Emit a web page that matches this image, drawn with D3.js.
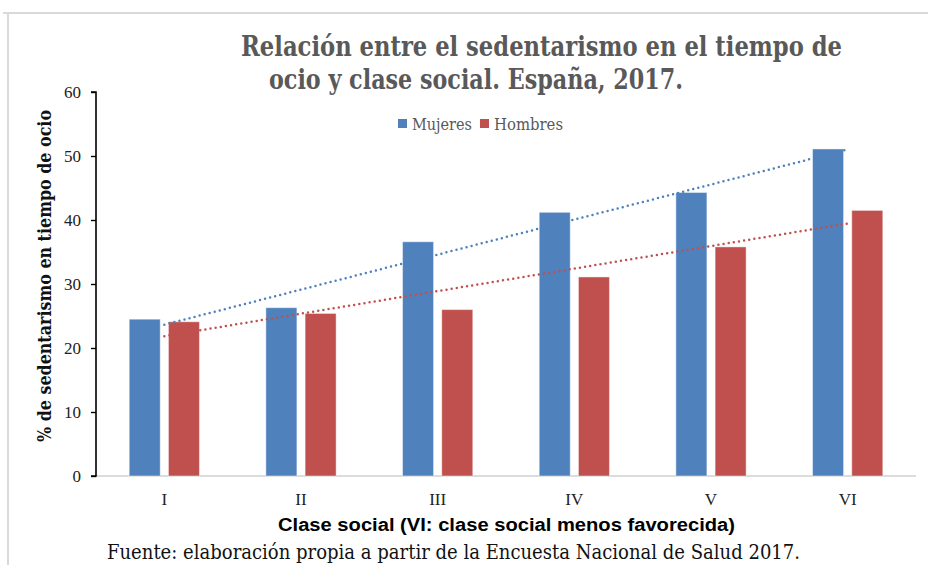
<!DOCTYPE html>
<html>
  <head>
    <meta charset="utf-8">
    <title>Sedentarismo y clase social</title>
    <script src="https://cdn.jsdelivr.net/npm/d3@7"></script>
    <style>
      body { margin: 0; background: #fff; }
      svg { display: block; }
    </style>
  </head>
  <body>
    <svg id="chart" width="928" height="565"></svg>
    <script>
      // data
      const clases = ["I", "II", "III", "IV", "V", "VI"];
      const mujeres = [24.5, 26.3, 36.6, 41.2, 44.3, 51.1];
      const hombres = [24.1, 25.4, 26.0, 31.1, 35.8, 41.5];
      const series = ["Mujeres", "Hombres"];
      const yTicks = [0, 10, 20, 30, 40, 50, 60];

      const colors = { Mujeres: "#4f81bd", Hombres: "#c0504d" };
      const serif = "'DejaVu Serif', 'Liberation Serif', serif";
      const narrowSerif = "'Liberation Serif', serif";

      const svg = d3.select("#chart");

      // frame lines (top and left)
      svg.append("line").attr("x1", 3).attr("x2", 928).attr("y1", 13).attr("y2", 13)
        .attr("stroke", "#d9d9d9").attr("stroke-width", 2);
      svg.append("line").attr("x1", 8).attr("x2", 8).attr("y1", 13).attr("y2", 565)
        .attr("stroke", "#d9d9d9").attr("stroke-width", 2);

      const x = d3.scaleBand().domain(clases).range([96, 916]);
      const y = d3.scaleLinear().domain([0, 60]).range([476, 92]);

      const barW = x.bandwidth() * 0.227;
      const gap = x.bandwidth() * 0.06;
      const offset = { Mujeres: -gap / 2 - barW, Hombres: gap / 2 };

      // x axis line
      svg.append("line")
        .attr("x1", x.range()[0]).attr("x2", x.range()[1])
        .attr("y1", y(0)).attr("y2", y(0))
        .attr("stroke", "#d0d0d0").attr("stroke-width", 1.5);

      // bars
      const rows = clases.map(function(c, i) {
        return { clase: c, Mujeres: mujeres[i], Hombres: hombres[i] };
      });
      series.forEach(function(s) {
        svg.append("g").selectAll("rect")
          .data(rows)
          .join("rect")
            .attr("x", function(d) { return x(d.clase) + x.bandwidth() / 2 + offset[s]; })
            .attr("y", function(d) { return y(d[s]); })
            .attr("width", barW)
            .attr("height", function(d) { return y(0) - y(d[s]); })
            .attr("fill", colors[s])
            .attr("stroke", "rgba(255,255,255,0.45)")
            .attr("stroke-width", 1);
      });

      // linear trend lines (least squares, like the spreadsheet)
      function trend(vals) {
        const n = vals.length;
        const xs = d3.range(1, n + 1);
        const mx = d3.mean(xs), my = d3.mean(vals);
        const b = d3.sum(xs, function(v, i) { return (v - mx) * (vals[i] - my); }) /
                  d3.sum(xs, function(v) { return (v - mx) * (v - mx); });
        const a = my - b * mx;
        return [a + b * 1, a + b * n];
      }
      [["Mujeres", mujeres], ["Hombres", hombres]].forEach(function(p) {
        const ends = trend(p[1]);
        svg.append("line")
          .attr("x1", x(clases[0]) + x.bandwidth() / 2)
          .attr("x2", x(clases[clases.length - 1]) + x.bandwidth() / 2)
          .attr("y1", y(ends[0]))
          .attr("y2", y(ends[1]))
          .attr("stroke", colors[p[0]])
          .attr("stroke-width", 2.5)
          .attr("stroke-linecap", "round")
          .attr("stroke-dasharray", "0 5.2");
      });

      // y axis
      const yAxis = d3.axisLeft(y).tickValues(yTicks).tickSize(5).tickPadding(10);
      const yg = svg.append("g")
        .attr("transform", "translate(96,0)")
        .call(yAxis);
      yg.select(".domain").attr("stroke", "#000").attr("stroke-width", 1.6)
        .attr("d", "M-5," + y(60) + "H0V" + y(0) + "H-5");
      yg.selectAll(".tick line").attr("stroke", "#000").attr("stroke-width", 1.4);
      yg.selectAll(".tick text")
        .attr("font-family", narrowSerif).attr("font-size", 17).attr("fill", "#222");

      // x tick labels
      svg.append("g").selectAll("text")
        .data(clases)
        .join("text")
          .attr("x", function(d) { return x(d) + x.bandwidth() / 2; })
          .attr("y", 505)
          .attr("text-anchor", "middle")
          .attr("font-family", narrowSerif)
          .attr("font-size", 17)
          .attr("fill", "#222")
          .text(function(d) { return d; });

      // titles
      svg.append("text")
        .attr("x", 241).attr("y", 56)
        .attr("font-family", serif).attr("font-weight", "bold").attr("font-size", 27)
        .attr("fill", "#595959")
        .attr("textLength", 601).attr("lengthAdjust", "spacingAndGlyphs")
        .text("Relación entre el sedentarismo en el tiempo de");
      svg.append("text")
        .attr("x", 269).attr("y", 89)
        .attr("font-family", serif).attr("font-weight", "bold").attr("font-size", 27)
        .attr("fill", "#595959")
        .attr("textLength", 414).attr("lengthAdjust", "spacingAndGlyphs")
        .text("ocio y clase social. España, 2017.");

      svg.append("text")
        .attr("transform", "translate(51,276) rotate(-90)")
        .attr("text-anchor", "middle")
        .attr("font-family", serif).attr("font-weight", "bold").attr("font-size", 18)
        .attr("fill", "#111")
        .attr("textLength", 332).attr("lengthAdjust", "spacingAndGlyphs")
        .text("% de sedentarismo en tiempo de ocio");

      svg.append("text")
        .attr("x", 278).attr("y", 531)
        .attr("font-family", "'Liberation Sans', Arial, sans-serif").attr("font-weight", "bold")
        .attr("font-size", 18).attr("fill", "#000")
        .attr("textLength", 457).attr("lengthAdjust", "spacingAndGlyphs")
        .text("Clase social (VI:  clase social menos favorecida)");

      svg.append("text")
        .attr("x", 107).attr("y", 559)
        .attr("font-family", serif).attr("font-size", 20).attr("fill", "#111")
        .attr("textLength", 693).attr("lengthAdjust", "spacingAndGlyphs")
        .text("Fuente: elaboración propia a partir de la Encuesta Nacional de Salud 2017.");

      // legend
      const legend = svg.append("g");
      const legendPos = [{ s: "Mujeres", x: 398, w: 60 }, { s: "Hombres", x: 480, w: 69 }];
      legendPos.forEach(function(l) {
        legend.append("rect")
          .attr("x", l.x).attr("y", 119).attr("width", 9).attr("height", 9)
          .attr("fill", colors[l.s]);
        legend.append("text")
          .attr("x", l.x + 14).attr("y", 130)
          .attr("font-family", serif).attr("font-size", 16).attr("fill", "#595959")
          .attr("textLength", l.w).attr("lengthAdjust", "spacingAndGlyphs")
          .text(l.s);
      });
    </script>
  </body>
</html>
